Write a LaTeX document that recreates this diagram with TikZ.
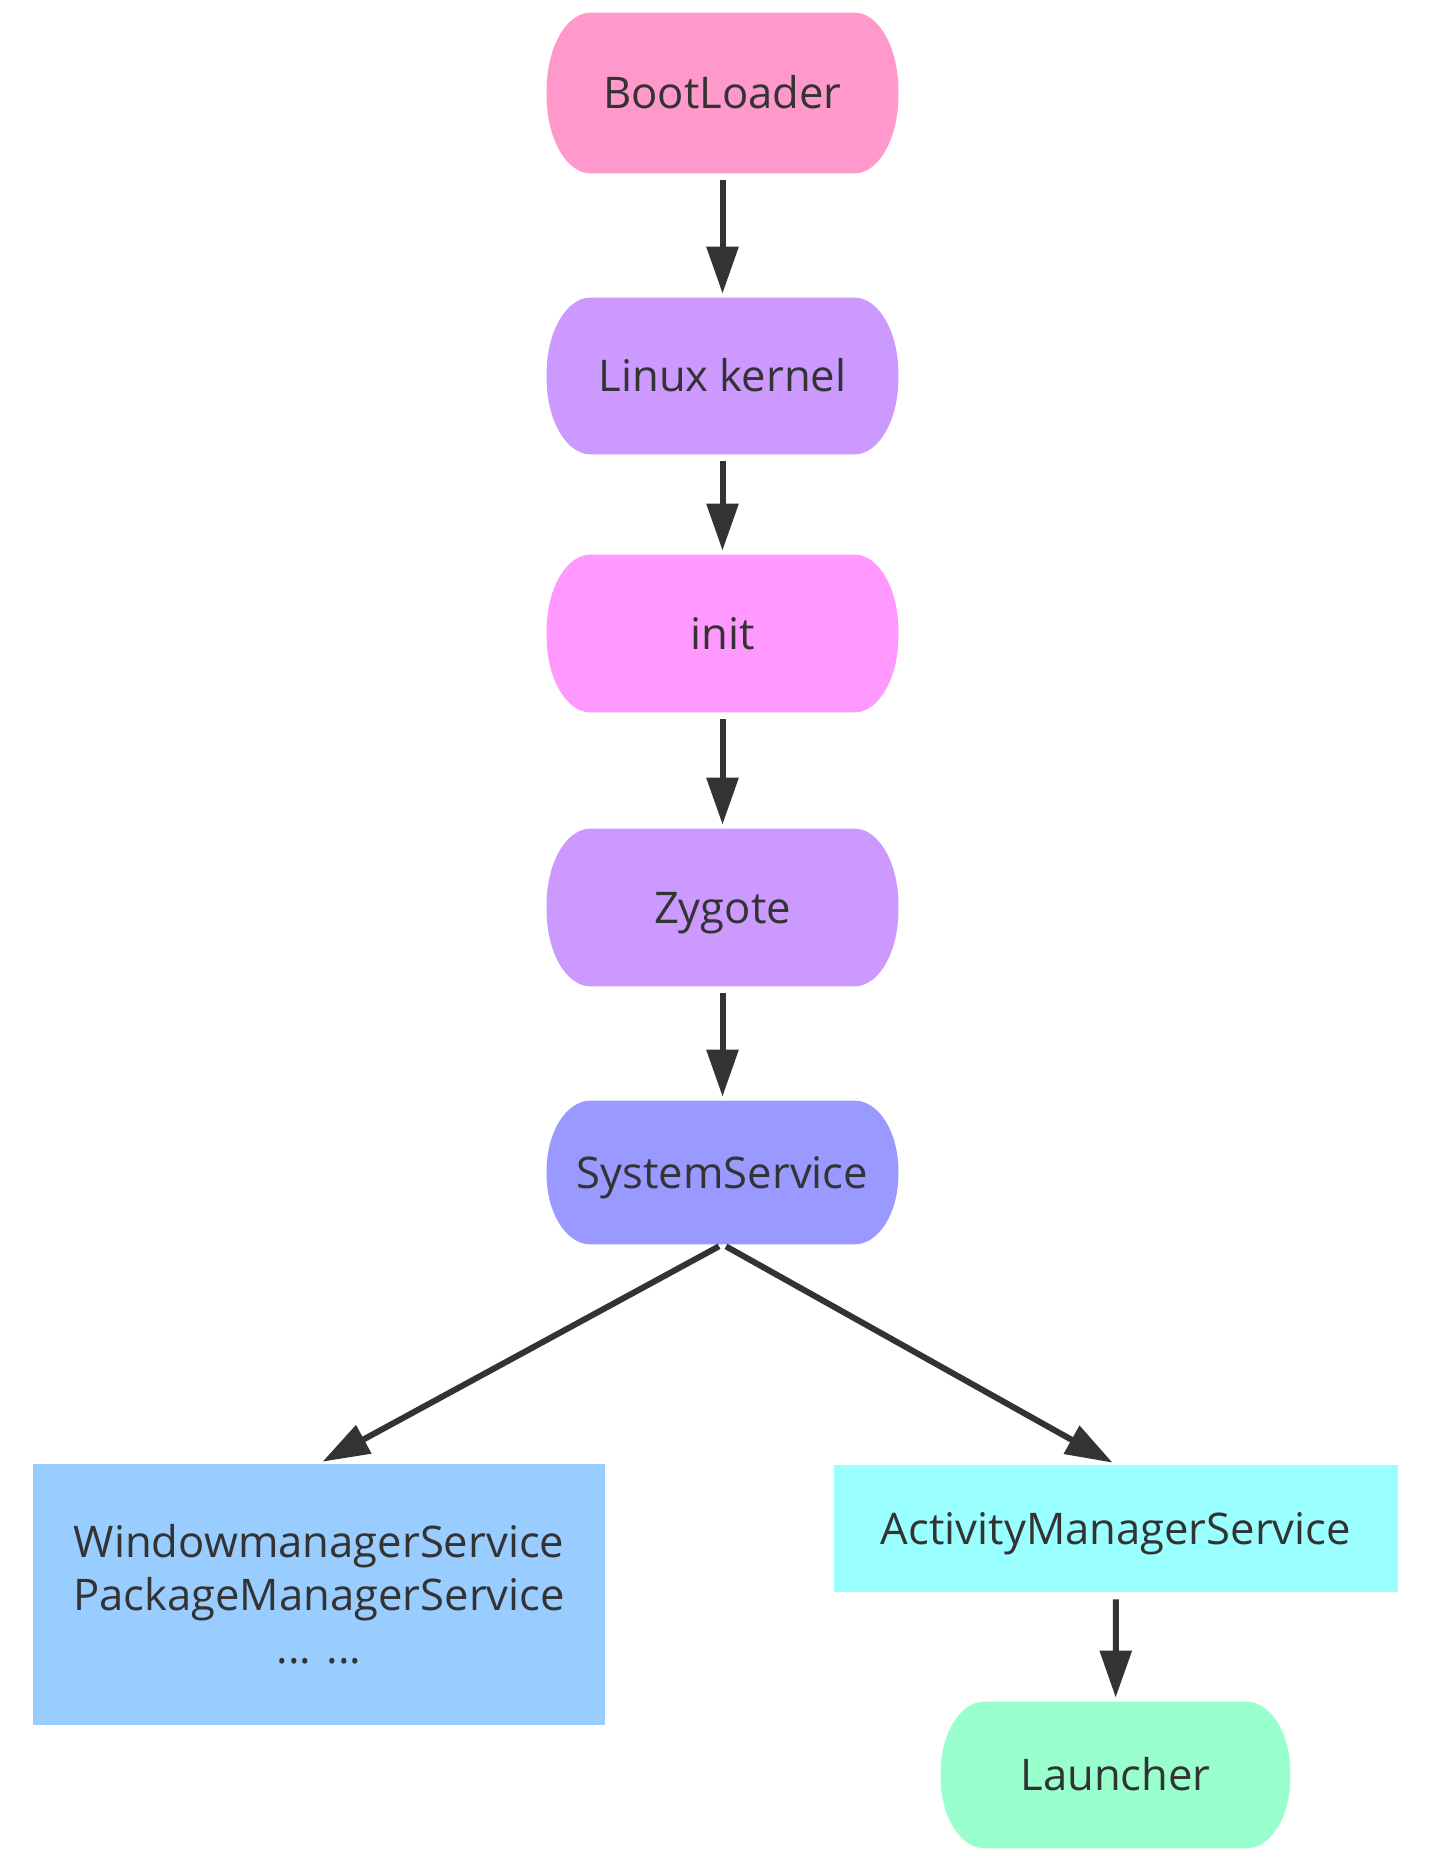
\documentclass[tikz,border=0pt]{standalone}
\usepackage{fontspec}
\setmainfont{Open Sans}
\usetikzlibrary{arrows.meta,backgrounds}
\definecolor{txt}{HTML}{333333}
\definecolor{cBoot}{HTML}{FF99CC}
\definecolor{cLinux}{HTML}{CC99FF}
\definecolor{cInit}{HTML}{FF99FF}
\definecolor{cSys}{HTML}{9999FF}
\definecolor{cWM}{HTML}{99CCFF}
\definecolor{cAMS}{HTML}{99FFFF}
\definecolor{cLaunch}{HTML}{99FFCC}
\newcommand\capfill[3]{%
  \fill[#2] ([xshift=22pt]#1.north west) -- ([xshift=-22pt]#1.north east)
    arc[start angle=90,end angle=0,x radius=22pt,y radius=#3]
    -- ([yshift=#3]#1.south east)
    arc[start angle=0,end angle=-90,x radius=22pt,y radius=#3]
    -- ([xshift=22pt]#1.south west)
    arc[start angle=270,end angle=180,x radius=22pt,y radius=#3]
    -- ([yshift=-#3]#1.north west)
    arc[start angle=180,end angle=90,x radius=22pt,y radius=#3] -- cycle;}
\tikzset{
  base/.style={inner sep=0pt, text=txt, align=center,
    font=\fontsize{21.8pt}{26.5pt}\selectfont},
  oneline/.style={base, text height=15.5pt, text depth=0pt},
  capsule/.style={oneline, minimum width=175.5pt},
  arr/.style={draw=txt, line width=3pt, -{Triangle[length=23.5pt,width=15.5pt]},
    shorten <=3.5pt, shorten >=2pt}
}
\begin{document}
\begin{tikzpicture}[x=0.5pt,y=-0.5pt]
\useasboundingbox (0,0) rectangle (1435,1861);
\node[capsule, minimum height=80pt] (boot) at (722.5,93) {BootLoader};
\node[capsule, minimum height=78pt] (linux) at (722.5,376) {Linux kernel};
\node[capsule, minimum height=78.5pt] (init) at (722.5,633.5) {init};
\node[capsule, minimum height=78.5pt] (zyg) at (722.5,907.5) {Zygote};
\node[capsule, minimum height=71.5pt] (sys) at (722.5,1172.5) {SystemService};
\node[base, minimum width=286pt, minimum height=130.5pt, fill=cWM] (wm) at (319,1594.5)
  {WindowmanagerService\\PackageManagerService\\... ...};
\node[oneline, minimum width=282pt, minimum height=63.5pt, fill=cAMS] (ams) at (1116,1528.5)
  {ActivityManagerService};
\node[oneline, minimum width=174.5pt, minimum height=73pt] (launch) at (1115.5,1775) {Launcher};
\begin{scope}[on background layer]
  \fill[white] (0,0) rectangle (1435,1861);
  \capfill{boot}{cBoot}{39pt}
  \capfill{linux}{cLinux}{38pt}
  \capfill{init}{cInit}{38pt}
  \capfill{zyg}{cLinux}{38pt}
  \capfill{sys}{cSys}{35pt}
  \capfill{launch}{cLaunch}{35.5pt}
\end{scope}
\draw[arr] (boot) -- (linux);
\draw[arr] (linux) -- (init);
\draw[arr] (init) -- (zyg);
\draw[arr] (zyg) -- (sys);
\draw[arr, shorten <=2pt] (sys.south) -- (wm.north);
\draw[arr, shorten <=2pt] (sys.south) -- (ams.north);
\draw[arr] (ams) -- (launch);
\end{tikzpicture}
\end{document}
